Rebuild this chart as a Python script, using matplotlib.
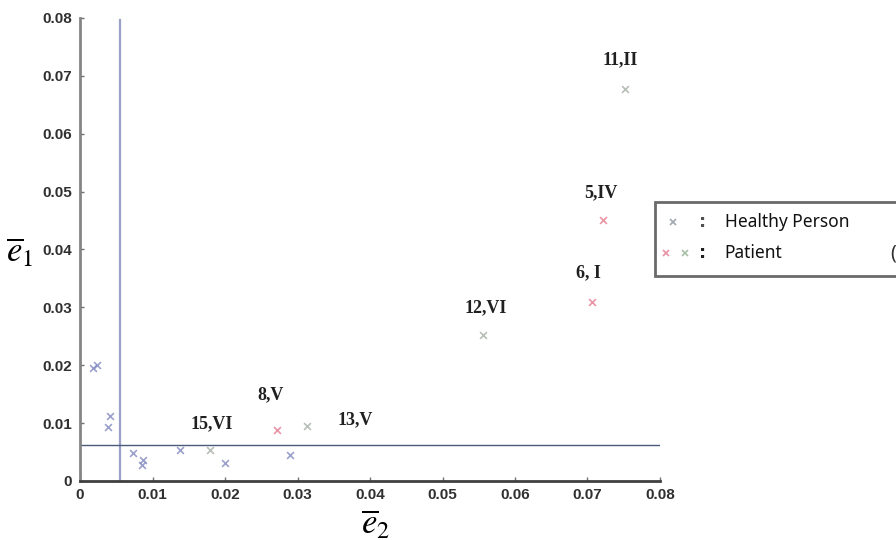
import matplotlib
matplotlib.use("Agg")
import matplotlib.pyplot as plt
from matplotlib.lines import Line2D
from matplotlib.patches import Rectangle

# healthy persons (blue x)
healthy_e2 = [0.0018, 0.0024, 0.0041, 0.0039, 0.0073, 0.0087, 0.0085, 0.0138, 0.0200, 0.0290]
healthy_e1 = [0.0195, 0.0200, 0.0112, 0.0093, 0.0048, 0.0036, 0.0028, 0.0054, 0.0031, 0.0045]

# patients, red x
patient_red_e2 = [0.0272, 0.0706, 0.0722]
patient_red_e1 = [0.0088, 0.0309, 0.0451]
# patients, grey/green x
patient_grn_e2 = [0.0179, 0.0313, 0.0556, 0.0752]
patient_grn_e1 = [0.0054, 0.0095, 0.0252, 0.0677]

# point labels and where they sit
labels = ["15,VI", "8,V", "13,V", "12,VI", "6, I", "5,IV", "11,II"]
label_x = [0.0182, 0.0263, 0.0379, 0.0559, 0.0701, 0.0718, 0.0745]
label_y = [0.0099, 0.0149, 0.0105, 0.0300, 0.0360, 0.0498, 0.0727]

# threshold lines
thr_e2 = 0.0055
thr_e1 = 0.0062

ticks = [0, 0.01, 0.02, 0.03, 0.04, 0.05, 0.06, 0.07, 0.08]
tick_labels = ["0", "0.01", "0.02", "0.03", "0.04", "0.05", "0.06", "0.07", "0.08"]

fig = plt.figure(figsize=(8.96, 5.40), dpi=100)
ax = fig.add_axes([0.0893, 0.1093, 0.6473, 0.8574])

ax.plot([thr_e2, thr_e2], [0, 0.0797], color="#9aa0c8", lw=1.6)
ax.plot([0, 0.08], [thr_e1, thr_e1], color="#4a5a78", lw=1.0)

ax.scatter(healthy_e2, healthy_e1, marker="x", s=24, color="#7a82bc", linewidths=1.2, alpha=0.75)
ax.scatter(patient_red_e2, patient_red_e1, marker="x", s=24, color="#e47088", linewidths=1.2, alpha=0.75)
ax.scatter(patient_grn_e2, patient_grn_e1, marker="x", s=24, color="#a0aaa0", linewidths=1.2, alpha=0.75)

for t, x, y in zip(labels, label_x, label_y):
    ax.text(x, y, t, ha="center", va="center", fontsize=13, fontweight="bold",
            family="Liberation Serif", color="#202020")

ax.set_xlim(0, 0.08)
ax.set_ylim(0, 0.08)
ax.set_xticks(ticks, labels=tick_labels)
ax.set_yticks(ticks, labels=tick_labels)
ax.tick_params(direction="in", length=3, width=1, colors="#707070", labelcolor="#303030",
               labelsize=11)
ax.tick_params(axis="y", pad=6)
ax.tick_params(axis="x", pad=5)
for lab in ax.get_xticklabels() + ax.get_yticklabels():
    lab.set_fontweight("bold")
    lab.set_family("Liberation Sans")

ax.spines["top"].set_visible(False)
ax.spines["right"].set_visible(False)
ax.spines["left"].set_color("#858585")
ax.spines["left"].set_linewidth(2)
ax.spines["bottom"].set_color("#404040")
ax.spines["bottom"].set_linewidth(2)

# axis labels
plt.rcParams["mathtext.fontset"] = "stix"
fig.text(20 / 896, 1 - 252 / 540, r"$\overline{e}_1$", fontsize=25, ha="center", va="center")
fig.text(376 / 896, 1 - 524 / 540, r"$\overline{e}_2$", fontsize=25, ha="center", va="center")

# legend box (runs past the right edge)
fig.add_artist(Rectangle((655 / 896, 1 - 276 / 540), 260 / 896, 74 / 540,
                         transform=fig.transFigure, facecolor="white",
                         edgecolor="#6a6a6a", lw=2, clip_on=False))
fig.add_artist(Line2D([673 / 896], [1 - 222 / 540], marker="x", color="#a0a8b0",
                      markersize=5, mew=1.2, transform=fig.transFigure))
fig.add_artist(Line2D([666 / 896], [1 - 253 / 540], marker="x", color="#e890a4",
                      markersize=5, mew=1.2, transform=fig.transFigure))
fig.add_artist(Line2D([685 / 896], [1 - 253 / 540], marker="x", color="#a8c0a8",
                      markersize=5, mew=1.2, transform=fig.transFigure))
fig.text(703 / 896, 1 - 222 / 540, ":", fontsize=13, fontweight="bold", ha="center", va="center",
         color="#505050")
fig.text(703 / 896, 1 - 253 / 540, ":", fontsize=13, fontweight="bold", ha="center", va="center",
         color="#202020")
fig.text(725 / 896, 1 - 222 / 540, "Healthy Person", fontsize=12.5, family="Noto Sans",
         ha="left", va="center", color="#111111")
fig.text(724 / 896, 1 - 253 / 540, "Patient", fontsize=12.5, family="Noto Sans",
         ha="left", va="center", color="#111111")
fig.text(893 / 896, 1 - 254 / 540, "(", fontsize=14, family="Noto Sans",
         ha="center", va="center", color="#303030")

fig.savefig("out.png", dpi=100)
